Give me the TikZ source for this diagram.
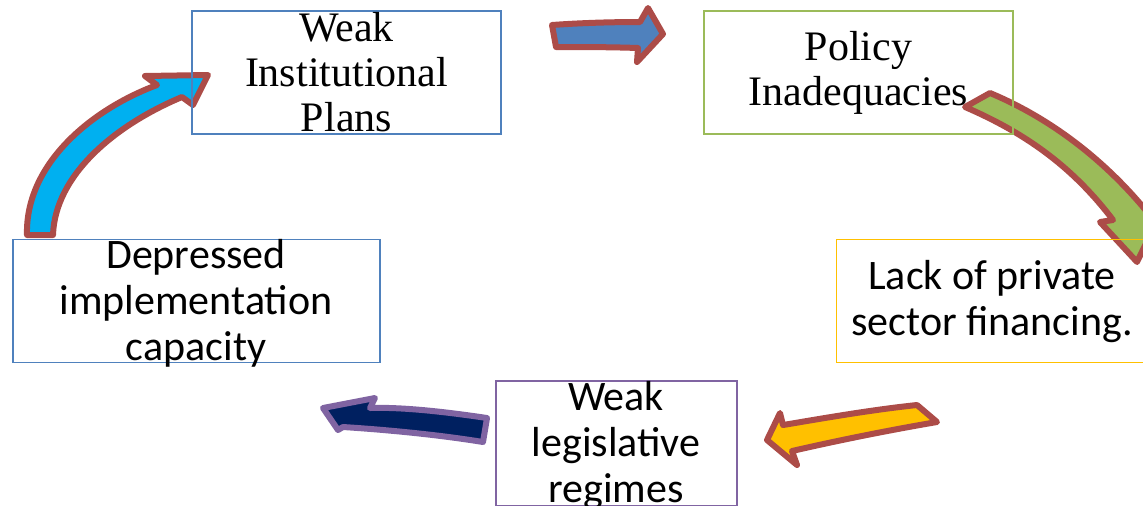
\documentclass[tikz,border=0pt]{standalone}
\usepackage{fontspec}
\setmainfont{Liberation Serif}
\newfontfamily\calib{Carlito}
\definecolor{boxblue}{RGB}{79,129,189}
\definecolor{boxgreen}{RGB}{155,187,89}
\definecolor{boxorange}{RGB}{255,192,0}
\definecolor{boxpurple}{RGB}{128,100,162}
\definecolor{edgered}{RGB}{172,76,72}
\definecolor{navyfill}{RGB}{0,32,96}
\definecolor{cyanfill}{RGB}{0,176,240}
\tikzset{
  framebox/.style={draw=#1, line width=0.75pt, minimum width=154.5pt, minimum height=61.5pt, inner sep=0pt},
  seriftext/.style={align=center, font=\fontsize{21}{22.5}\selectfont, inner sep=0pt},
  sanstext/.style={align=center, font=\calib\fontsize{21}{23}\selectfont, inner sep=0pt},
  blockarrow/.style={fill=#1, draw=edgered, line width=3pt, line join=round},
}
\begin{document}
\begin{tikzpicture}[x=0.5pt,y=-0.5pt]
\useasboundingbox (0,0) rectangle (1143,505);
\clip (0,0) rectangle (1143,505);
% block arrows
\path[blockarrow=boxblue] (552,25) .. controls (580,23) and (610,22) .. (640,22) -- (648,8) -- (663,34) -- (637,62) -- (638,48) .. controls (610,47) and (580,47) .. (556,47) -- cycle;
\path[blockarrow=boxgreen] (965,107) -- (990,93) .. controls (1050,118) and (1105,160) .. (1148,213) -- (1166,202) -- (1137,262) -- (1100,222) -- (1113,220) .. controls (1075,170) and (1030,135) .. cycle;
\path[blockarrow=boxorange] (917,405) .. controls (870,410) and (825,418) .. (783,425) -- (780,413) -- (767,440) -- (797,465) -- (792,451) .. controls (840,440) and (890,430) .. (937,422) -- cycle;
\path[blockarrow=navyfill, draw=boxpurple] (487,418) .. controls (440,411) and (400,407) .. (370,408) -- (375,398) -- (323,408) -- (338,430) -- (343,427) .. controls (390,430) and (440,435) .. (483,442) -- cycle;
\path[blockarrow=cyanfill] (27,235) .. controls (25,165) and (90,110) .. (157,85) -- (145,76) -- (208,75) -- (193,105) -- (182,97) .. controls (115,125) and (55,175) .. (53,235) -- cycle;
% boxes
\node[framebox=boxblue] (wip) at (346.5,72.5) {};
\node[seriftext] (wipt) at (wip.center) {Weak\\Institutional\\Plans};
\node[framebox=boxgreen] (pi) at (858.5,72.5) {};
\node[seriftext] (pit) at (pi.center) {Policy\\Inadequacies};
\node[framebox=boxorange] (lp) at (991,301) {};
\node[sanstext] (lpt) at (992,302) {Lack of private\\sector financing.};
\node[framebox=boxpurple, minimum width=120.5pt, minimum height=62.5pt] (wl) at (616.5,443.5) {};
\node[sanstext] (wlt) at (616,446) {Weak\\legislative\\regimes};
\node[framebox=boxblue, minimum width=183.5pt] (dic) at (196.5,301) {};
\node[sanstext] (dict) at (196,303) {Depressed\\implementation\\capacity};
\end{tikzpicture}
\end{document}
